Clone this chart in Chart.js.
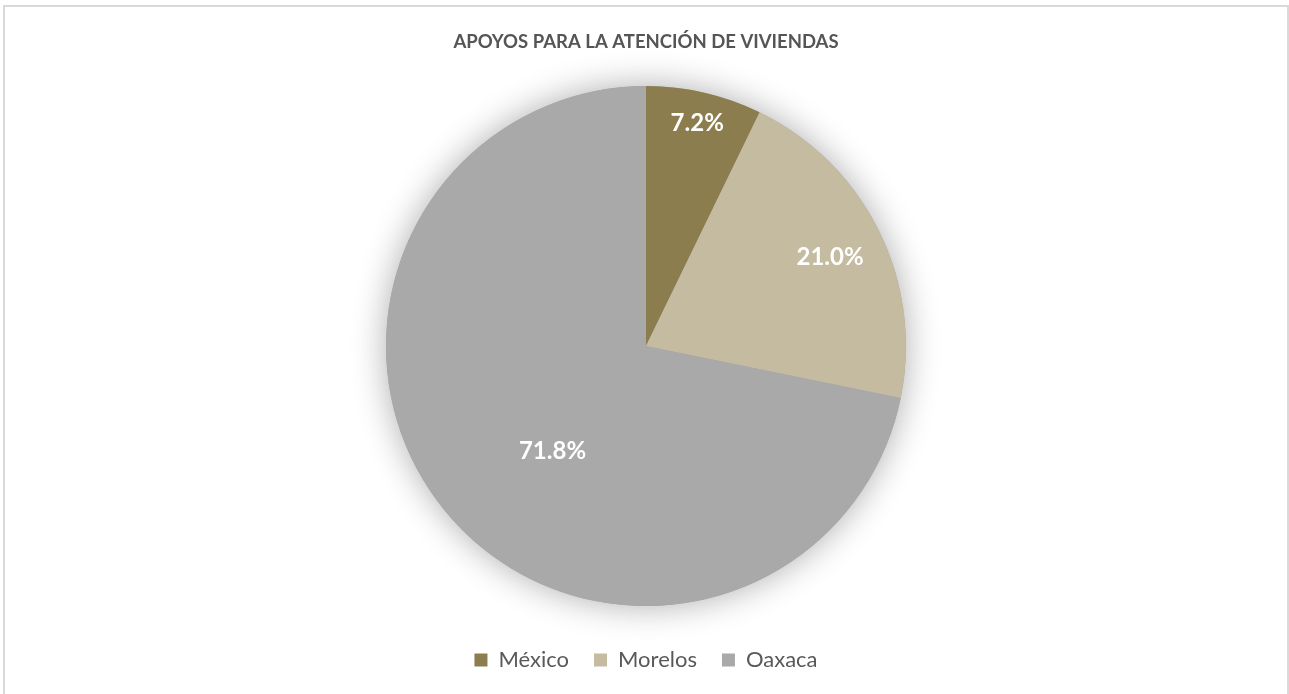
<!DOCTYPE html>
<html>
<head>
<meta charset="utf-8">
<title>Apoyos para la atención de viviendas</title>
<script src="https://cdn.jsdelivr.net/npm/chart.js@4/dist/chart.umd.min.js"></script>
<style>
  html, body { margin: 0; padding: 0; background: #fff; overflow: hidden; }
  #frame {
    position: absolute; left: 3px; top: 5px; width: 1286px; height: 700px;
    border: 2px solid #d9d9d9; box-sizing: border-box;
  }
  #wrap { position: absolute; left: 0; top: 0; width: 1289px; height: 694px; }
</style>
</head>
<body>
<div id="frame"></div>
<div id="wrap"><canvas id="pieChart"></canvas></div>
<script>
const estados = ['México', 'Morelos', 'Oaxaca'];
const porcentajes = [7.2, 21.0, 71.8];
const colores = ['#8c7d4e', '#c4bba0', '#a9a9a9'];
const tituloGrafica = 'APOYOS PARA LA ATENCIÓN DE VIVIENDAS';

// soft halo under the whole pie
const pieShadow = {
    id: 'pieShadow',
    beforeDatasetsDraw(chart) {
        const arc = chart.getDatasetMeta(0).data[0];
        if (!arc) return;
        const ctx = chart.ctx;
        ctx.save();
        ctx.shadowColor = 'rgba(0, 0, 0, 0.32)';
        ctx.shadowBlur = 34;
        ctx.fillStyle = '#a9a9a9';
        ctx.beginPath();
        ctx.arc(arc.x, arc.y, arc.outerRadius, 0, Math.PI * 2);
        ctx.fill();
        ctx.restore();
    }
};

// percentage labels inside each slice: [radius fraction, angle shift in degrees]
const labelPlace = [[0.878, 0], [0.787, 0.4], [0.54, -9]];
const sliceLabels = {
    id: 'sliceLabels',
    afterDatasetsDraw(chart) {
        const ctx = chart.ctx;
        const meta = chart.getDatasetMeta(0);
        ctx.save();
        ctx.fillStyle = '#ffffff';
        ctx.font = 'bold 24px Lato';
        ctx.textAlign = 'center';
        ctx.textBaseline = 'middle';
        meta.data.forEach((arc, i) => {
            const [frac, shift] = labelPlace[i];
            const mid = (arc.startAngle + arc.endAngle) / 2 + shift * Math.PI / 180;
            const r = arc.outerRadius * frac;
            const x = arc.x + Math.cos(mid) * r;
            const y = arc.y + Math.sin(mid) * r;
            ctx.fillText(porcentajes[i].toFixed(1) + '%', x, y);
        });
        ctx.restore();
    }
};

const ctx = document.getElementById('pieChart').getContext('2d');
new Chart(ctx, {
    type: 'pie',
    data: {
        labels: estados,
        datasets: [{
            data: porcentajes,
            backgroundColor: colores,
            borderWidth: 0,
            radius: 260
        }]
    },
    options: {
        responsive: true,
        maintainAspectRatio: false,
        animation: false,
        layout: { padding: { left: 3, right: 0, top: 0, bottom: 13 } },
        plugins: {
            title: {
                display: true,
                text: tituloGrafica,
                color: '#555555',
                font: { family: 'Lato', size: 18.5, weight: 'bold', lineHeight: 1.2 },
                padding: { top: 31, bottom: 15 }
            },
            legend: {
                position: 'bottom',
                labels: {
                    color: '#595959',
                    font: { family: 'Lato', size: 22 },
                    boxWidth: 13,
                    boxHeight: 13,
                    padding: 25
                }
            },
            tooltip: { enabled: false }
        }
    },
    plugins: [pieShadow, sliceLabels]
});
</script>
</body>
</html>
